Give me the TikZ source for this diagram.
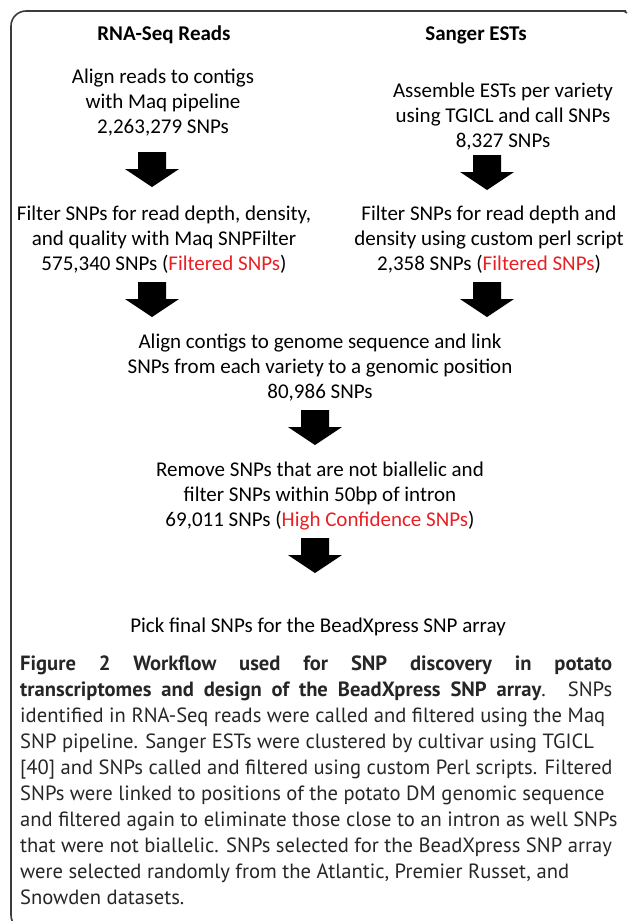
\documentclass[tikz,border=0pt]{standalone}
\usepackage{fontspec}
\setmainfont{Carlito}
\newfontfamily\capfont{PT Sans}
\definecolor{hl}{RGB}{232,32,36}
\definecolor{framec}{RGB}{60,60,60}
\begin{document}
\begin{tikzpicture}[x=1pt,y=-1pt,
  txt/.style={align=center, font=\fontsize{21}{25}\selectfont, inner sep=0pt},
  hdr/.style={font=\fontsize{21}{25}\selectfont\bfseries, inner sep=0pt},
  capline/.style={anchor=base west, inner sep=0pt, font=\capfont\fontsize{20.6}{26}\selectfont, text=black!85},
  blockarrow/.pic={\fill[black] (-14,0) -- (14,0) -- (14,17) -- (27,17) -- (0,35) -- (-27,17) -- (-14,17) -- cycle;}
]
\useasboundingbox (0,0) rectangle (627,921);
% frame
\draw[framec, line width=1.6pt, rounded corners=15pt] (40,930) -- (11,930) -- (11,11) -- (626,11);
\draw[framec, line width=1.6pt] (624,11) -- (627,13);

% headers
\node[hdr] (h1) at (164,35) {RNA-Seq Reads};
\node[hdr] (h2) at (476,35) {Sanger ESTs};

% step 1
\node[txt] (l1) at (163,103) {Align reads to contigs\\with Maq pipeline\\2,263,279 SNPs};
\node[txt] (r1) at (503,117) {Assemble ESTs per variety\\using TGICL and call SNPs\\8,327 SNPs};
\pic (al1) at (152,152) {blockarrow};
\pic (ar1) at (487,155) {blockarrow};

% step 2
\node[txt] (l2) at (164,240) {Filter SNPs for read depth, density,\\ and quality with Maq SNPFilter\\575,340 SNPs (\textcolor{hl}{Filtered SNPs})};
\node[txt] (r2) at (489,240) {Filter SNPs for read depth and\\ density using custom perl script\\2,358 SNPs (\textcolor{hl}{Filtered SNPs})};
\pic (al2) at (152,282) {blockarrow};
\pic (ar2) at (487,282) {blockarrow};

% step 3
\node[txt] (m3) at (320,368) {Align contigs to genome sequence and link\\SNPs from each variety to a genomic position\\80,986 SNPs};
\pic (a3) at (315,410) {blockarrow};

% step 4
\node[txt] (m4) at (320,496) {Remove SNPs that are not biallelic and\\filter SNPs within 50bp of intron\\69,011 SNPs (\textcolor{hl}{High Confidence SNPs})};
\pic (a4) at (315,538) {blockarrow};

% step 5
\node[txt] (m5) at (318,627) {Pick final SNPs for the BeadXpress SNP array};

% caption
\node[capline] (c1) at (20,670) {\makebox[592pt][s]{\bfseries Figure 2 Workflow used for SNP discovery in potato}};
\node[capline] (c2) at (20,696) {\makebox[592pt][s]{\bfseries transcriptomes and design of the BeadXpress SNP array\mdseries. SNPs}};
\node[capline] (c3) at (20,722) {identified in RNA-Seq reads were called and filtered using the Maq};
\node[capline] (c4) at (20,748) {SNP pipeline. Sanger ESTs were clustered by cultivar using TGICL};
\node[capline] (c5) at (20,774) {[40] and SNPs called and filtered using custom Perl scripts. Filtered};
\node[capline] (c6) at (20,800) {SNPs were linked to positions of the potato DM genomic sequence};
\node[capline] (c7) at (20,826) {and filtered again to eliminate those close to an intron as well SNPs};
\node[capline] (c8) at (20,852) {that were not biallelic. SNPs selected for the BeadXpress SNP array};
\node[capline] (c9) at (20,878) {were selected randomly from the Atlantic, Premier Russet, and};
\node[capline] (c10) at (20,904) {Snowden datasets.};
\end{tikzpicture}
\end{document}
